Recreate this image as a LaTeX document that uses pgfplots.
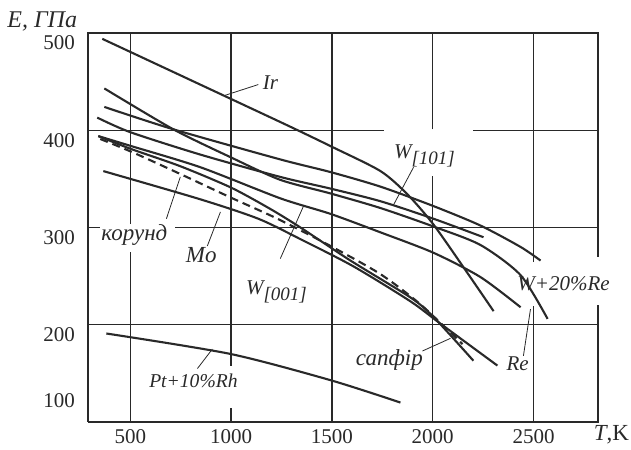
\documentclass[border=0pt]{standalone}
\usepackage{pgfplots}
\pgfplotsset{compat=1.18}
\usepackage{fontspec}
\setmainfont{Liberation Serif}
\definecolor{ink}{gray}{0.16}
\begin{document}
\begin{tikzpicture}[font=\fontsize{10.5}{12}\selectfont,
  grid line/.style={ink, line width=0.7pt},
  curve/.style={ink, line width=1.05pt, smooth, tension=0.45, mark=none},
  leader/.style={ink, line width=0.4pt},
  lbl/.style={font=\itshape\fontsize{10.5}{12}\selectfont, text=ink, inner sep=0pt}]
\begin{axis}[
  scale only axis, width=255pt, height=194.5pt,
  xmin=290, xmax=2820, ymin=100, ymax=500,
  axis line style={draw=none},
  xtick={500,1000,1500,2000,2500},
  ytick={200,300,400,500},
  extra y ticks={100},
  extra y tick style={yticklabel style={yshift=15.5pt}},
  major tick length=0pt, tick style={draw=none},
  /pgf/number format/assume math mode=true,
  /pgf/number format/set thousands separator={},
  ticklabel style={font=\fontsize{10.5}{12}\selectfont, text=ink},
  yticklabel style={yshift=-5pt, xshift=-3pt},
  clip=false,
]
% frame
\draw[grid line] (axis cs:290,100) -- (axis cs:290,500) -- (axis cs:2820,500) -- (axis cs:2820,270)
  (axis cs:2820,220) -- (axis cs:2820,100) -- (axis cs:290,100);
% grid with gaps
\draw[grid line] (axis cs:500,100) -- (axis cs:500,275) (axis cs:500,303.5) -- (axis cs:500,500);
\draw[grid line] (axis cs:1000,100) -- (axis cs:1000,114) (axis cs:1000,158) -- (axis cs:1000,500);
\draw[grid line] (axis cs:1500,100) -- (axis cs:1500,500);
\draw[grid line] (axis cs:2000,100) -- (axis cs:2000,353) (axis cs:2000,401) -- (axis cs:2000,500);
\draw[grid line] (axis cs:2500,100) -- (axis cs:2500,219.5) (axis cs:2500,264.5) -- (axis cs:2500,500);
\draw[grid line] (axis cs:290,400) -- (axis cs:1756,400) (axis cs:2202,400) -- (axis cs:2820,400);
\draw[grid line] (axis cs:290,300) -- (axis cs:351,300) (axis cs:723,300) -- (axis cs:2820,300);
\draw[grid line] (axis cs:290,200) -- (axis cs:2820,200);

% Ir
\addplot[curve] coordinates {(361,494) (991,433) (1300,403) (1500,383) (1741,358) (1875,334) (2004,303) (2173,253) (2302,214)};
% W+20%Re
\addplot[curve] coordinates {(371,424) (713,401) (1244,370) (1493,357) (1741,342) (2004,322) (2237,302) (2436,280) (2535,266)};
% W[101]
\addplot[curve] coordinates {(336,413) (500,398) (847,375) (1244,352) (1493,340) (1741,327) (2004,309) (2252,290)};
% Re
\addplot[curve] coordinates {(371,443) (713,401) (1000,372) (1244,349) (1493,335) (1741,320) (2004,301) (2237,282) (2436,251) (2570,206)};
% W[001]
\addplot[curve] coordinates {(341,394) (500,384) (847,362) (1244,330) (1493,314) (1741,295) (2004,274) (2237,249) (2436,218)};
% sapphire
\addplot[curve] coordinates {(341,394) (500,381) (748,363) (1000,341) (1195,319) (1344,300) (1592,266) (1890,228) (2004,208) (2202,163)};
% Mo
\addplot[curve] coordinates {(366,358) (847,329) (1135,309) (1344,288) (1607,260) (1890,224) (2039,201) (2321,158)};
% corundum (dashed)
\addplot[curve, dash pattern=on 4pt off 2.5pt] coordinates {(351,391) (515,377) (748,355) (996,331) (1230,309) (1493,281) (1741,252) (1939,221) (2148,180)};
% Pt+10%Rh
\addplot[curve] coordinates {(381,191) (996,170) (1493,143) (1840,120)};

% leaders
\draw[leader] (axis cs:971,436) -- (axis cs:1135,447);
\draw[leader] (axis cs:1905,362) -- (axis cs:1805,323);
\draw[leader] (axis cs:2485,216) -- (axis cs:2450,168);
\draw[leader] (axis cs:1949,173) -- (axis cs:2088,186);
\draw[leader] (axis cs:748,352) -- (axis cs:679,309);
\draw[leader] (axis cs:882,281) -- (axis cs:947,316);
\draw[leader] (axis cs:1244,268) -- (axis cs:1359,322);
\draw[leader] (axis cs:833,155) -- (axis cs:907,175);

% labels
\node[lbl] at (axis cs:1195,449) {Ir};
\node[lbl] at (axis cs:1959,374) {W\raisebox{-3pt}{\fontsize{9.5}{11}\selectfont[101]}};
\node[lbl] at (axis cs:2649,242) {W+20\%Re};
\node[lbl] at (axis cs:2421,160) {Re};
\node[lbl, font=\itshape\fontsize{11.5}{13}\selectfont] at (axis cs:1785,164) {сапфір};
\node[lbl, font=\itshape\fontsize{11.5}{13}\selectfont] at (axis cs:520,292) {корунд};
\node[lbl, font=\itshape\fontsize{11.5}{13}\selectfont] at (axis cs:852,272) {Mo};
\node[lbl] at (axis cs:1225,234) {W\raisebox{-3pt}{\fontsize{9.5}{11}\selectfont[001]}};
\node[lbl, font=\itshape\fontsize{9.8}{12}\selectfont] at (axis cs:813,142) {Pt+10\%Rh};
\node[lbl, font=\itshape\fontsize{12}{14}\selectfont] at (axis cs:63,512) {E, ГПа};
\node[inner sep=0pt, text=ink, font=\fontsize{11.5}{13}\selectfont] at (axis cs:2887,87) {\textit{T},K};

% page extent
\path ([xshift=-44pt,yshift=-13pt]rel axis cs:0,0) rectangle ([xshift=16.5pt,yshift=16.5pt]rel axis cs:1,1);
\end{axis}
\end{tikzpicture}
\end{document}
